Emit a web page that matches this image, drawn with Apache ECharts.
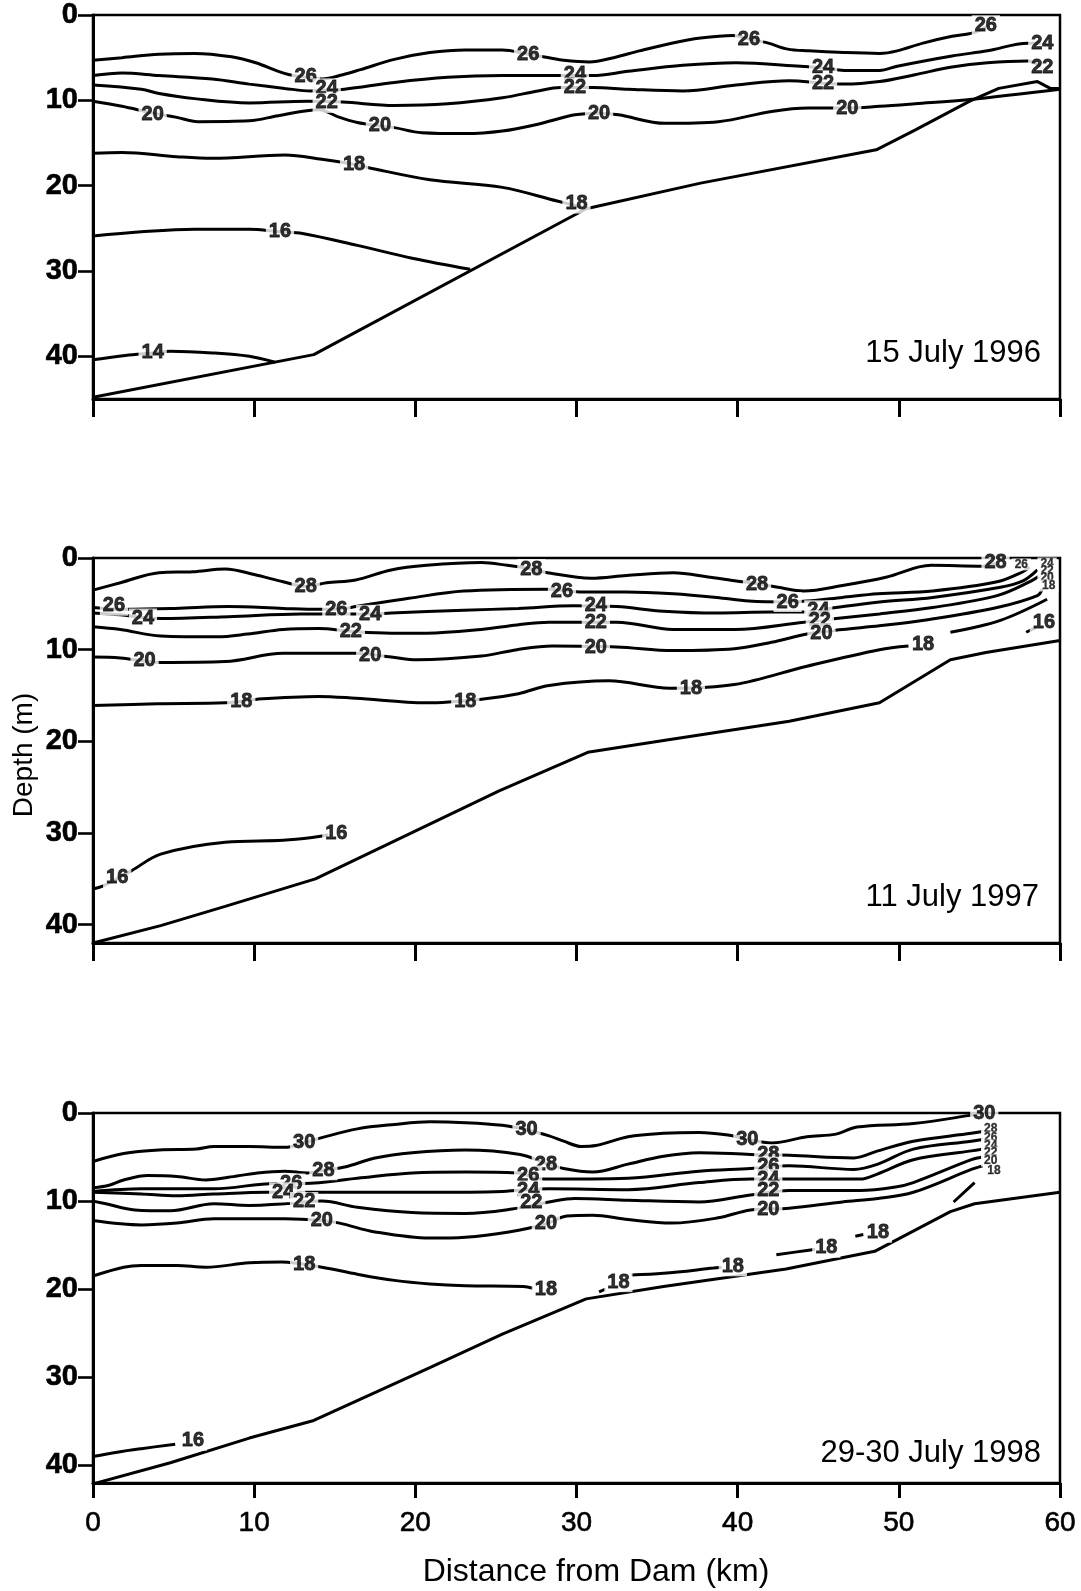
<!DOCTYPE html>
<html>
<head>
<meta charset="utf-8">
<title>Temperature sections</title>
<script src="https://cdn.jsdelivr.net/npm/echarts@6/dist/echarts.min.js"></script>
<style>
  html, body { margin: 0; background: #fff; }
  #chart { width: 1081px; height: 1591px; }
</style>
</head>
<body>
<div id="chart"></div>
<script>
// x ticks (km) and depth ticks (m)
const kmTicks = [0, 10, 20, 30, 40, 50, 60]
const depthTicks = [0, 10, 20, 30, 40]
const depthMax = [45, 42, 42]
const dates = ['15 July 1996', '11 July 1997', '29-30 July 1998']

// ---- 15 July 1996 ----
const p1_t26 = [[0, 5.3], [1.8, 5.0], [4.1, 4.6], [6.3, 4.5], [8.6, 4.9], [10.1, 5.6], [11.5, 6.6], [12.2, 7.0], [13.2, 7.3], [14.2, 7.5], [15.5, 7.0], [16.6, 6.4], [18.7, 5.2], [20.9, 4.4], [23.1, 4.1], [25.4, 4.1], [27.0, 4.6], [28.3, 5.0], [29.2, 5.3], [30.8, 5.5], [32.3, 5.0], [33.9, 4.2], [35.9, 3.3], [37.7, 2.7], [39.7, 2.4], [40.7, 2.8], [41.9, 3.3], [43.1, 4.0], [44.4, 4.2], [46.6, 4.4], [48.8, 4.5], [49.9, 4.2], [51.5, 3.3], [53.3, 2.5], [54.6, 2.1], [55.6, 1.2]]
const p1_t24 = [[0, 7.1], [1.8, 6.8], [4.1, 7.1], [7.4, 7.5], [9.7, 8.1], [11.9, 8.6], [13.5, 8.9], [14.5, 8.8], [15.6, 8.7], [18.7, 7.9], [22.0, 7.3], [25.4, 7.1], [28.8, 7.1], [31.0, 7.1], [33.2, 6.6], [36.6, 5.9], [39.9, 5.6], [43.9, 6.0], [45.3, 6.2], [46.6, 6.5], [48.8, 6.5], [49.9, 6.0], [53.3, 4.8], [55.5, 4.2], [58.0, 3.3], [58.8, 3.3]]
const p1_t22 = [[0, 8.2], [3.0, 8.7], [4.1, 9.2], [6.3, 9.8], [9.7, 10.3], [13.3, 10.1], [15.5, 10.2], [18.7, 10.6], [22.0, 10.4], [25.4, 9.7], [27.6, 8.9], [29.0, 8.5], [31.0, 8.5], [33.2, 8.7], [36.6, 8.9], [39.9, 8.2], [43.2, 7.7], [45.3, 8.0], [46.6, 8.1], [48.8, 7.8], [51.0, 7.0], [53.3, 6.1], [55.5, 5.6], [58.0, 5.4], [58.8, 6.0]]
const p1_t20 = [[0, 10.1], [1.8, 10.7], [3.7, 11.5], [5.2, 12.0], [6.5, 12.5], [9.7, 12.4], [11.5, 11.8], [14.0, 11.1], [15.3, 12.0], [16.4, 12.6], [17.8, 13.0], [18.7, 13.2], [20.4, 13.8], [23.1, 13.9], [25.4, 13.6], [27.6, 12.8], [29.9, 11.7], [31.4, 11.5], [32.6, 11.7], [35.5, 12.7], [38.8, 12.5], [42.1, 11.3], [44.4, 10.9], [46.8, 10.9], [48.8, 10.7], [51.0, 10.4], [54.4, 9.9], [60, 8.7]]
const p1_t18 = [[0, 16.2], [1.8, 16.1], [5.2, 16.6], [7.4, 16.8], [11.9, 16.4], [14.2, 16.9], [16.2, 17.5], [17.1, 17.9], [20.9, 19.3], [25.4, 20.2], [28.8, 21.8], [30.3, 22.5]]
const p1_t16 = [[0, 25.9], [3.0, 25.4], [6.3, 25.1], [9.7, 25.1], [11.6, 25.4], [13.0, 25.6], [16.4, 27.0], [19.8, 28.5], [23.4, 29.8]]
const p1_t14 = [[0, 40.4], [2.0, 39.9], [3.7, 39.6], [4.8, 39.4], [7.4, 39.6], [9.7, 40.0], [11.3, 40.7]]
const p1_bottom = [[0, 44.8], [13.7, 39.8], [30.6, 22.7], [37.7, 19.7], [48.6, 15.8], [51.0, 13.5], [54.4, 10.1], [56.2, 8.6], [58.6, 7.8], [59.4, 8.6], [60, 8.6]]
const p1_labels = [
  [13.2, 7.2, '26'], [27.0, 4.6, '26'], [40.7, 2.9, '26'], [55.4, 1.2, '26'],
  [14.5, 8.6, '24'], [29.9, 7.0, '24'], [45.3, 6.1, '24'], [58.9, 3.3, '24'],
  [14.5, 10.3, '22'], [29.9, 8.5, '22'], [45.3, 8.0, '22'], [58.9, 6.2, '22'],
  [3.7, 11.6, '20'], [17.8, 13.0, '20'], [31.4, 11.5, '20'], [46.8, 10.9, '20'],
  [16.2, 17.5, '18'], [30.0, 22.1, '18'],
  [11.6, 25.4, '16'], [3.7, 39.6, '14']
]

// ---- 11 July 1997 ----
const p2_t28 = [[0, 3.5], [1.7, 2.7], [4.1, 1.6], [6.2, 1.5], [8.2, 1.2], [10.0, 1.8], [11.8, 2.6], [13.2, 3.1], [14.5, 2.7], [16.3, 2.4], [18.5, 1.3], [20.7, 0.8], [24.1, 0.5], [25.7, 0.8], [27.2, 1.2], [28.2, 1.6], [30.9, 2.2], [33.1, 1.9], [36.0, 1.6], [38.3, 2.1], [40.3, 2.6], [41.2, 2.8], [42.5, 3.2], [44.1, 3.6], [46.5, 3.0], [49.2, 2.1], [52.0, 0.8], [55.2, 0.9], [56.0, 0.6]]
const p2_t26 = [[0, 5.4], [1.9, 5.6], [5.1, 5.5], [8.4, 5.3], [11.8, 5.5], [14.0, 5.6], [15.1, 5.6], [16.3, 5.3], [19.6, 4.4], [23.0, 3.6], [28.3, 3.4], [30.2, 3.7], [33.1, 3.7], [36.0, 3.9], [38.7, 4.3], [40.7, 4.7], [43.1, 4.8], [44.3, 4.7], [46.5, 4.3], [48.7, 3.9], [52.1, 3.6], [56.1, 2.6], [57.7, 1.5], [58.1, 1.0]]
const p2_t24 = [[0, 6.0], [1.7, 6.2], [3.1, 6.5], [4.2, 6.6], [8.4, 6.4], [12.9, 6.1], [16.0, 6.1], [17.2, 6.1], [18.5, 6.0], [23.0, 5.7], [26.4, 5.5], [29.8, 5.2], [32.5, 5.3], [35.4, 5.8], [38.7, 6.0], [42.1, 5.9], [44.1, 5.9], [46.1, 5.4], [48.8, 4.8], [52.1, 4.3], [56.3, 3.2], [57.7, 2.5], [58.6, 1.3]]
const p2_t22 = [[0, 7.5], [1.7, 7.8], [4.2, 8.5], [7.7, 8.6], [9.6, 8.3], [11.8, 7.8], [14.0, 7.7], [16.0, 8.0], [18.5, 8.2], [20.7, 8.2], [24.1, 7.8], [26.3, 7.3], [28.3, 7.0], [32.5, 7.0], [36.0, 7.8], [39.8, 7.8], [44.1, 7.0], [46.1, 6.6], [48.8, 6.1], [52.1, 5.4], [56.1, 4.1], [58.1, 2.6], [59.0, 1.6]]
const p2_t20 = [[0, 10.8], [1.7, 10.9], [4.2, 11.4], [8.2, 11.3], [11.8, 10.4], [16.3, 10.4], [18.5, 10.8], [20.1, 11.1], [24.1, 10.7], [26.3, 10.0], [28.5, 9.6], [32.5, 9.7], [36.0, 10.1], [39.8, 9.9], [42.1, 9.2], [44.3, 8.3], [46.5, 7.8], [48.8, 7.4], [51.9, 6.7], [56.1, 5.4], [58.6, 4.1], [58.9, 3.4]]
const p2_t18 = [[0, 16.1], [4.0, 15.9], [8.2, 15.8], [10.2, 15.4], [14.0, 15.1], [16.3, 15.3], [20.7, 15.8], [24.1, 15.4], [26.4, 14.8], [28.3, 13.9], [32.0, 13.4], [35.8, 14.2], [39.8, 13.8], [44.3, 11.8], [48.8, 10.0], [50.6, 9.6], null, [53.2, 8.1], [56.3, 6.8], [59.2, 4.5]]
const p2_t16 = [[0, 36.1], [0.6, 35.8], [2.4, 34.1], [4.2, 32.3], [8.2, 31.0], [11.8, 30.8], [13.6, 30.5], [14.6, 30.2], null, [57.9, 8.1], [58.5, 7.6]]
const p2_bottom = [[0, 42.0], [4.2, 40.1], [8.2, 38.0], [13.8, 35.0], [20.7, 29.2], [25.2, 25.4], [30.7, 21.2], [35.4, 19.9], [43.2, 17.8], [48.8, 15.8], [53.2, 11.1], [55.4, 10.3], [60, 9.0]]
const p2_labels = [
  [13.2, 3.1, '28'], [27.2, 1.2, '28'], [41.2, 2.9, '28'], [56.0, 0.5, '28'],
  [1.3, 5.2, '26'], [15.1, 5.6, '26'], [29.1, 3.6, '26'], [43.1, 4.8, '26'],
  [3.1, 6.6, '24'], [17.2, 6.2, '24'], [31.2, 5.2, '24'], [45.0, 5.7, '24'],
  [16.0, 8.0, '22'], [31.2, 7.0, '22'], [45.1, 6.8, '22'],
  [3.2, 11.2, '20'], [17.2, 10.6, '20'], [31.2, 9.8, '20'], [45.2, 8.2, '20'],
  [9.2, 15.6, '18'], [23.1, 15.6, '18'], [37.1, 14.2, '18'], [51.5, 9.4, '18'],
  [1.5, 34.9, '16'], [15.1, 30.1, '16'], [59.0, 7.0, '16']
]
const p2_edgeLabels = [[57.6, 0.7, '26'], [59.2, 0.6, '24'], [59.2, 1.4, '22'], [59.2, 2.2, '20'], [59.3, 3.0, '18']]

// ---- 29-30 July 1998 ----
const p3_t30 = [[0, 5.5], [1.9, 4.6], [4.1, 4.2], [6.4, 4.1], [7.5, 3.8], [9.7, 3.8], [11.9, 3.9], [13.1, 3.4], [14.2, 2.8], [16.4, 1.8], [18.7, 1.3], [20.9, 1.0], [23.1, 1.1], [25.4, 1.4], [26.9, 1.9], [28.3, 2.6], [29.2, 3.2], [30.3, 3.8], [31.2, 3.7], [33.2, 2.7], [35.4, 2.3], [37.6, 2.2], [39.4, 2.5], [40.6, 3.0], [42.1, 3.4], [44.3, 2.7], [46.1, 2.4], [47.4, 1.6], [50.9, 1.2], [54.3, 0.3], [55.1, 0.0]]
const p3_t28 = [[0, 8.5], [1.0, 8.2], [1.9, 7.6], [3.4, 7.1], [5.2, 7.2], [7.0, 7.6], [8.4, 7.3], [10.2, 6.8], [11.9, 6.6], [13.3, 6.8], [14.3, 6.5], [15.7, 6.1], [17.5, 5.1], [19.8, 4.5], [23.1, 4.2], [26.5, 4.7], [28.1, 5.7], [29.2, 6.3], [31.0, 6.7], [33.2, 5.8], [35.4, 4.9], [37.6, 4.5], [40.8, 4.7], [43.2, 4.8], [47.2, 5.1], [48.7, 4.3], [50.9, 3.2], [54.5, 2.3], [55.2, 2.1]]
const p3_t26 = [[0, 8.9], [3.0, 8.6], [7.5, 8.6], [11.3, 8.0], [13.1, 8.0], [16.4, 7.4], [19.8, 6.8], [23.1, 6.7], [26.3, 6.8], [27.9, 7.5], [33.2, 7.4], [37.6, 6.6], [40.8, 6.3], [43.2, 6.0], [47.2, 6.4], [48.7, 5.8], [50.9, 4.1], [54.5, 3.2], [55.2, 3.0]]
const p3_t24 = [[0, 9.0], [3.0, 9.2], [5.2, 9.4], [7.5, 9.2], [10.8, 9.0], [13.7, 9.0], [16.4, 9.0], [20.9, 9.0], [25.4, 8.9], [28.3, 8.6], [33.2, 8.7], [37.6, 7.9], [40.8, 7.5], [43.2, 7.5], [47.6, 7.5], [48.7, 6.9], [50.9, 5.3], [54.5, 4.3], [55.2, 4.1]]
const p3_t22 = [[0, 10.0], [0.8, 10.3], [2.6, 11.0], [4.8, 11.1], [7.5, 10.3], [9.7, 10.5], [11.9, 10.3], [14.2, 10.0], [16.4, 10.7], [19.8, 11.3], [23.1, 11.4], [26.0, 10.9], [28.3, 10.1], [29.9, 9.7], [33.2, 9.9], [37.6, 10.1], [40.8, 9.3], [43.2, 8.8], [47.6, 8.8], [49.8, 8.4], [50.9, 7.9], [54.5, 5.3], [55.2, 5.0]]
const p3_t20 = [[0, 12.2], [3.0, 12.7], [5.2, 12.5], [7.5, 12.0], [11.9, 12.0], [14.2, 12.2], [15.3, 12.5], [17.5, 13.5], [20.9, 14.2], [23.1, 14.1], [25.8, 13.5], [28.1, 12.6], [29.4, 11.7], [31.0, 11.6], [33.2, 12.1], [35.9, 12.5], [38.8, 11.9], [40.8, 11.0], [43.2, 10.8], [46.5, 10.1], [48.7, 9.7], [50.9, 9.0], [54.5, 6.4], [55.2, 6.0]]
const p3_t18 = [[0, 18.5], [1.9, 17.5], [3.0, 17.3], [5.2, 17.3], [7.0, 17.5], [9.7, 17.0], [11.7, 16.9], [14.2, 17.5], [16.4, 18.3], [18.7, 19.0], [20.9, 19.4], [23.1, 19.6], [26.7, 19.7], [27.3, 19.9], null, [31.4, 20.3], [31.8, 20.0], null, [33.4, 18.4], [35.4, 18.2], [38.5, 17.6], [39.0, 17.5], null, [42.4, 16.1], [44.3, 15.6], [44.8, 15.5], null, [47.3, 14.0], [47.8, 13.8], null, [53.4, 10.1], [54.7, 7.9]]
const p3_t16 = [[0, 39.0], [1.5, 38.5], [3.0, 38.1], [5.1, 37.6]]
const p3_bottom = [[0, 42.1], [4.8, 39.7], [9.7, 36.9], [13.7, 34.9], [20.9, 28.9], [25.4, 25.1], [30.6, 21.1], [35.4, 19.7], [43.0, 17.7], [48.5, 15.7], [53.2, 11.2], [54.7, 10.3], [60, 9.0]]
const p3_labels = [
  [13.1, 3.4, '30'], [26.9, 1.9, '30'], [40.6, 3.0, '30'], [55.3, 0.0, '30'],
  [14.3, 6.5, '28'], [28.1, 5.8, '28'], [41.9, 4.7, '28'],
  [12.3, 8.0, '26'], [27.0, 7.1, '26'], [41.9, 6.1, '26'],
  [11.8, 9.0, '24'], [27.0, 8.8, '24'], [41.9, 7.5, '24'],
  [13.1, 10.1, '22'], [27.2, 10.2, '22'], [41.9, 8.8, '22'],
  [14.2, 12.2, '20'], [28.1, 12.5, '20'], [41.9, 11.0, '20'],
  [13.1, 17.2, '18'], [28.1, 20.0, '18'], [32.6, 19.2, '18'], [39.7, 17.4, '18'], [45.5, 15.3, '18'], [48.7, 13.6, '18'],
  [6.2, 37.2, '16']
]
const p3_edgeLabels = [[55.7, 1.8, '28'], [55.7, 2.8, '26'], [55.7, 3.7, '24'], [55.7, 4.5, '22'], [55.7, 5.4, '20'], [55.9, 6.5, '18']]

const panels = [
  { lines: [p1_t26, p1_t24, p1_t22, p1_t20, p1_t18, p1_t16, p1_t14], bottom: p1_bottom, labels: p1_labels, edge: [] },
  { lines: [p2_t28, p2_t26, p2_t24, p2_t22, p2_t20, p2_t18, p2_t16], bottom: p2_bottom, labels: p2_labels, edge: p2_edgeLabels },
  { lines: [p3_t30, p3_t28, p3_t26, p3_t24, p3_t22, p3_t20, p3_t18, p3_t16], bottom: p3_bottom, labels: p3_labels, edge: p3_edgeLabels }
]

const FONT = '"Liberation Sans", Arial, sans-serif'
const gridTops = [15, 558, 1113]
const gridHeights = [384, 385, 370]

// split a line at null entries so gaps stay open
function segments(arr) {
  const out = [[]]
  arr.forEach(p => {
    if (p === null) out.push([])
    else out[out.length - 1].push(p)
  })
  return out.filter(s => s.length > 1)
}

function lineSeries(i, data, smooth) {
  return {
    type: 'line',
    xAxisIndex: i,
    yAxisIndex: i,
    data: data,
    smooth: smooth,
    symbol: 'none',
    silent: true,
    z: 2,
    lineStyle: { color: '#000', width: 3 }
  }
}

function labelSeries(i, data, size) {
  return {
    type: 'scatter',
    xAxisIndex: i,
    yAxisIndex: i,
    data: data,
    symbol: 'rect',
    symbolSize: 1,
    clip: false,
    silent: true,
    z: 5,
    itemStyle: { color: 'rgba(0,0,0,0)' },
    label: {
      show: true,
      position: 'inside',
      formatter: p => p.value[2],
      fontFamily: FONT,
      fontSize: size,
      fontWeight: 'bold',
      color: '#000',
      textBorderColor: '#000',
      textBorderWidth: size > 15 ? 0.8 : 0.3,
      backgroundColor: '#fff',
      padding: [0, 3],
      lineHeight: size
    }
  }
}

const series = []
panels.forEach((pan, i) => {
  pan.lines.forEach(l => {
    segments(l).forEach(s => series.push(lineSeries(i, s, 0.35)))
  })
  series.push(lineSeries(i, pan.bottom, false))
  series.push(labelSeries(i, pan.labels, 20))
  if (pan.edge.length) series.push(labelSeries(i, pan.edge, 12))
})

const chart = echarts.init(document.getElementById('chart'), null, { renderer: 'canvas' })
chart.setOption({
  animation: false,
  backgroundColor: '#fff',
  grid: gridTops.map((t, i) => ({
    left: 93,
    right: 21,
    top: t,
    height: gridHeights[i],
    show: true,
    borderColor: '#000',
    borderWidth: 2.5
  })),
  xAxis: gridTops.map((t, i) => ({
    gridIndex: i,
    type: 'value',
    min: 0,
    max: 60,
    interval: 10,
    axisLine: { show: true, onZero: false, lineStyle: { color: '#000', width: 3 } },
    axisTick: { show: true, inside: false, length: i === 2 ? 15 : 18, customValues: kmTicks, lineStyle: { color: '#000', width: 3 } },
    axisLabel: { show: i === 2, customValues: kmTicks, margin: 26, fontSize: 28, color: '#000', fontFamily: FONT, textBorderColor: '#000', textBorderWidth: 0.6 },
    splitLine: { show: false }
  })),
  yAxis: gridTops.map((t, i) => ({
    gridIndex: i,
    type: 'value',
    inverse: true,
    min: 0,
    max: depthMax[i],
    interval: 10,
    axisLine: { show: true, onZero: false, lineStyle: { color: '#000', width: 3 } },
    axisTick: { show: true, inside: false, length: 15, customValues: depthTicks, lineStyle: { color: '#000', width: 2.6 } },
    axisLabel: { customValues: depthTicks, margin: 15, fontSize: 29, fontWeight: 'bold', color: '#000', fontFamily: FONT, textBorderColor: '#000', textBorderWidth: 0.6 },
    splitLine: { show: false }
  })),
  graphic: [
    { type: 'text', x: 1041, y: 353, style: { text: dates[0], font: '31px ' + FONT, fill: '#000', align: 'right', verticalAlign: 'middle' } },
    { type: 'text', x: 1039, y: 897, style: { text: dates[1], font: '31px ' + FONT, fill: '#000', align: 'right', verticalAlign: 'middle' } },
    { type: 'text', x: 1041, y: 1453, style: { text: dates[2], font: '31px ' + FONT, fill: '#000', align: 'right', verticalAlign: 'middle' } },
    { type: 'text', x: 596, y: 1572, style: { text: 'Distance from Dam (km)', font: '32px ' + FONT, fill: '#000', align: 'center', verticalAlign: 'middle' } },
    { type: 'text', x: 24, y: 755, rotation: Math.PI / 2, style: { text: 'Depth (m)', font: '28px ' + FONT, fill: '#000', align: 'center', verticalAlign: 'middle' } }
  ],
  series: series
})
</script>
</body>
</html>
